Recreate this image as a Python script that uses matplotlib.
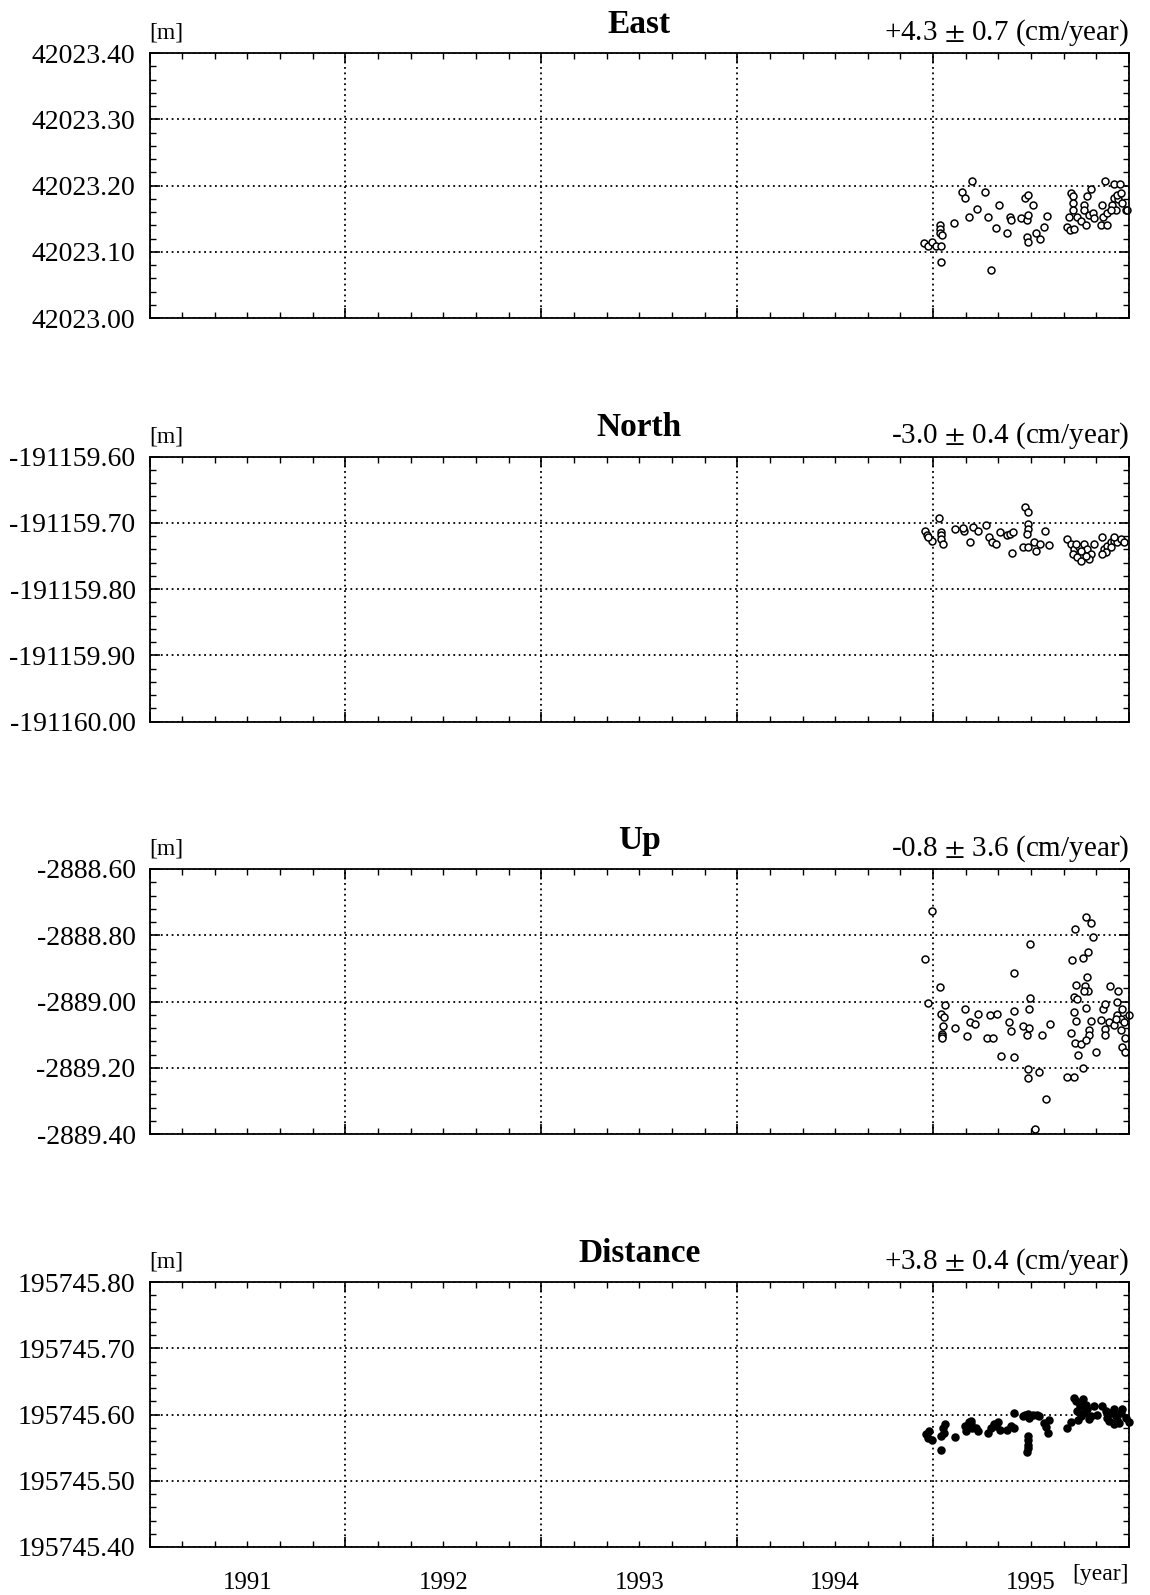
import numpy as np
import matplotlib
matplotlib.use("Agg")
import matplotlib.pyplot as plt
from matplotlib.ticker import MultipleLocator, FixedLocator, NullFormatter, FuncFormatter
from matplotlib.transforms import blended_transform_factory

# ---------------- data ----------------
panel_titles = ["East", "North", "Up", "Distance"]
rate_texts = ["+4.3 $\\pm$ 0.7 (cm/year)", "-3.0 $\\pm$ 0.4 (cm/year)",
              "-0.8 $\\pm$ 3.6 (cm/year)", "+3.8 $\\pm$ 0.4 (cm/year)"]
y_limits = [(42023.00, 42023.40), (-191160.00, -191159.60),
            (-2889.40, -2888.60), (195745.40, 195745.80)]
y_major = [0.10, 0.10, 0.20, 0.10]
y_minor = [0.02, 0.02, 0.04, 0.02]
year_labels = ["1991", "1992", "1993", "1994", "1995"]

east_t = [1994.954, 1994.975, 1994.995, 1995.017, 1995.039, 1995.034, 1995.035, 1995.036,
          1995.047, 1995.039, 1995.107, 1995.149, 1995.161, 1995.183, 1995.198, 1995.224,
          1995.263, 1995.280, 1995.319, 1995.334, 1995.297, 1995.376, 1995.393, 1995.397,
          1995.449, 1995.468, 1995.483, 1995.478, 1995.486, 1995.508, 1995.478, 1995.483,
          1995.525, 1995.547, 1995.568, 1995.581, 1995.681, 1995.698, 1995.720, 1995.703,
          1995.715, 1995.712, 1995.712, 1995.692, 1995.737, 1995.754, 1995.768, 1995.771,
          1995.780, 1995.788, 1995.805, 1995.797, 1995.814, 1995.822, 1995.856, 1995.876,
          1995.890, 1995.864, 1995.869, 1995.890, 1995.915, 1995.924, 1995.924, 1995.944,
          1995.941, 1995.954, 1995.961, 1995.966, 1995.983, 1995.992, 1995.932, 1995.907]
east_v = [42023.113, 42023.109, 42023.114, 42023.109, 42023.108, 42023.141, 42023.135, 42023.128,
          42023.125, 42023.085, 42023.143, 42023.190, 42023.181, 42023.152, 42023.207, 42023.164,
          42023.190, 42023.152, 42023.136, 42023.170, 42023.073, 42023.129, 42023.152, 42023.148,
          42023.151, 42023.181, 42023.185, 42023.148, 42023.156, 42023.171, 42023.123, 42023.115,
          42023.128, 42023.120, 42023.137, 42023.154, 42023.138, 42023.133, 42023.134, 42023.189,
          42023.184, 42023.174, 42023.163, 42023.152, 42023.153, 42023.147, 42023.171, 42023.163,
          42023.141, 42023.184, 42023.194, 42023.156, 42023.158, 42023.151, 42023.141, 42023.207,
          42023.141, 42023.171, 42023.152, 42023.158, 42023.171, 42023.202, 42023.181, 42023.179,
          42023.186, 42023.202, 42023.189, 42023.174, 42023.163, 42023.163, 42023.163, 42023.163]

north_t = [1994.958, 1994.971, 1994.992, 1994.975, 1995.030, 1995.039, 1995.042, 1995.039,
           1995.051, 1995.110, 1995.158, 1995.153, 1995.186, 1995.203, 1995.229, 1995.268,
           1995.283, 1995.300, 1995.322, 1995.339, 1995.376, 1995.395, 1995.410, 1995.403,
           1995.471, 1995.483, 1995.483, 1995.483, 1995.478, 1995.458, 1995.483, 1995.514,
           1995.525, 1995.547, 1995.571, 1995.593, 1995.686, 1995.703, 1995.720, 1995.712,
           1995.737, 1995.754, 1995.746, 1995.771, 1995.788, 1995.805, 1995.797, 1995.822,
           1995.780, 1995.729, 1995.754, 1995.864, 1995.873, 1995.890, 1995.907, 1995.924,
           1995.941, 1995.958, 1995.975, 1995.924, 1995.907, 1995.881, 1995.864]
north_v = [-191159.713, -191159.719, -191159.728, -191159.722, -191159.693, -191159.714,
           -191159.719, -191159.724, -191159.732, -191159.709, -191159.713, -191159.708,
           -191159.729, -191159.707, -191159.713, -191159.703, -191159.722, -191159.729,
           -191159.732, -191159.714, -191159.719, -191159.717, -191159.714, -191159.745,
           -191159.676, -191159.684, -191159.702, -191159.709, -191159.717, -191159.737,
           -191159.736, -191159.729, -191159.742, -191159.732, -191159.713, -191159.733,
           -191159.724, -191159.732, -191159.740, -191159.747, -191159.752, -191159.757,
           -191159.737, -191159.732, -191159.740, -191159.747, -191159.755, -191159.732,
           -191159.750, -191159.732, -191159.742, -191159.722, -191159.740, -191159.735,
           -191159.729, -191159.727, -191159.729, -191159.724, -191159.729, -191159.722,
           -191159.737, -191159.744, -191159.747]

up_t = [1994.992, 1994.958, 1994.975, 1995.037, 1995.059, 1995.042, 1995.056, 1995.051,
        1995.044, 1995.044, 1995.047, 1995.114, 1995.161, 1995.175, 1995.190, 1995.215,
        1995.229, 1995.276, 1995.308, 1995.288, 1995.327, 1995.347, 1995.386, 1995.400,
        1995.411, 1995.411, 1995.415, 1995.461, 1995.478, 1995.492, 1995.492, 1995.495,
        1995.497, 1995.483, 1995.483, 1995.539, 1995.556, 1995.576, 1995.598, 1995.686,
        1995.717, 1995.703, 1995.708, 1995.725, 1995.720, 1995.720, 1995.732, 1995.729,
        1995.737, 1995.725, 1995.754, 1995.742, 1995.763, 1995.764, 1995.783, 1995.808,
        1995.817, 1995.791, 1995.785, 1995.775, 1995.791, 1995.768, 1995.780, 1995.805,
        1995.797, 1995.797, 1995.780, 1995.830, 1995.859, 1995.869, 1995.876, 1995.876,
        1995.876, 1995.903, 1995.898, 1995.924, 1995.941, 1995.944, 1995.941, 1995.958,
        1995.966, 1995.975, 1995.958, 1995.978, 1995.966, 1995.978, 1995.998, 1995.932,
        1995.520]
up_v = [-2888.727, -2888.872, -2889.004, -2888.957, -2889.012, -2889.037, -2889.047,
        -2889.074, -2889.097, -2889.104, -2889.110, -2889.080, -2889.022, -2889.104,
        -2889.062, -2889.067, -2889.037, -2889.109, -2889.109, -2889.042, -2889.037,
        -2889.164, -2889.062, -2889.090, -2889.030, -2888.914, -2889.167, -2889.074,
        -2889.100, -2889.080, -2889.022, -2888.990, -2888.827, -2889.204, -2889.230,
        -2889.214, -2889.100, -2889.294, -2889.067, -2889.227, -2889.227, -2889.094,
        -2888.875, -2888.782, -2888.987, -2889.032, -2888.950, -2889.060, -2888.992,
        -2889.124, -2889.127, -2889.162, -2889.202, -2888.870, -2888.744, -2888.764,
        -2888.804, -2888.852, -2888.927, -2888.954, -2888.967, -2888.967, -2889.020,
        -2889.060, -2889.087, -2889.100, -2889.117, -2889.152, -2889.057, -2889.022,
        -2889.007, -2889.082, -2889.100, -2888.954, -2889.062, -2889.072, -2889.002,
        -2888.967, -2889.042, -2889.052, -2889.022, -2889.062, -2889.087, -2889.110,
        -2889.137, -2889.152, -2889.040, -2889.052, -2889.385]

dist_t = [1994.966, 1994.978, 1994.992, 1994.975, 1995.039, 1995.051, 1995.059, 1995.054,
          1995.042, 1995.114, 1995.161, 1995.169, 1995.181, 1995.191, 1995.198, 1995.195,
          1995.220, 1995.229, 1995.280, 1995.297, 1995.322, 1995.330, 1995.313, 1995.344,
          1995.378, 1995.398, 1995.412, 1995.412, 1995.458, 1995.471, 1995.483, 1995.491,
          1995.508, 1995.530, 1995.542, 1995.483, 1995.483, 1995.483, 1995.483, 1995.478,
          1995.564, 1995.576, 1995.585, 1995.593, 1995.686, 1995.703, 1995.717, 1995.729,
          1995.737, 1995.751, 1995.763, 1995.771, 1995.780, 1995.788, 1995.797, 1995.805,
          1995.822, 1995.839, 1995.864, 1995.881, 1995.890, 1995.907, 1995.924, 1995.932,
          1995.941, 1995.949, 1995.958, 1995.966, 1995.983, 1996.000, 1995.924, 1995.898,
          1995.754, 1995.740]
dist_v = [195745.570, 195745.575, 195745.562, 195745.565, 195745.547, 195745.580, 195745.585,
          195745.572, 195745.567, 195745.566, 195745.582, 195745.575, 195745.588, 195745.585,
          195745.580, 195745.590, 195745.580, 195745.575, 195745.572, 195745.580, 195745.583,
          195745.588, 195745.585, 195745.577, 195745.577, 195745.582, 195745.580, 195745.603,
          195745.597, 195745.600, 195745.601, 195745.595, 195745.599, 195745.600, 195745.597,
          195745.567, 195745.562, 195745.554, 195745.549, 195745.544, 195745.587, 195745.581,
          195745.572, 195745.592, 195745.580, 195745.588, 195745.625, 195745.620, 195745.605,
          195745.613, 195745.623, 195745.603, 195745.615, 195745.608, 195745.593, 195745.598,
          195745.613, 195745.600, 195745.613, 195745.605, 195745.595, 195745.603, 195745.608,
          195745.597, 195745.592, 195745.587, 195745.603, 195745.608, 195745.595, 195745.588,
          195745.585, 195745.590, 195745.597, 195745.591]

series_t = [east_t, north_t, up_t, dist_t]
series_v = [east_v, north_v, up_v, dist_v]

# ---------------- plotting ----------------
plt.rcParams['font.family'] = ['Liberation Serif', 'DejaVu Serif']
plt.rcParams['mathtext.fontset'] = 'stix'

W, H = 1150, 1595
fig = plt.figure(figsize=(W / 100, H / 100), dpi=100)
fig.patch.set_facecolor('white')

left = 149.5 / W
width = (1129 - 149.5) / W
tops = [53, 456.5, 869, 1282]
ph = 265

for i in range(4):
    bottom = 1 - (tops[i] + ph) / H
    ax = fig.add_axes([left, bottom, width, ph / H])
    ax.plot(series_t[i], series_v[i], linestyle='none', marker='o',
            markersize=5, markerfacecolor=('black' if i == 3 else 'white'),
            markeredgecolor='black', markeredgewidth=1.1, clip_on=False)
    ax.set_xlim(1991.0, 1996.0)
    ax.set_ylim(*y_limits[i])
    ax.xaxis.set_major_locator(FixedLocator([1991, 1992, 1993, 1994, 1995, 1996]))
    ax.xaxis.set_minor_locator(MultipleLocator(1 / 6))
    ax.yaxis.set_major_locator(MultipleLocator(y_major[i]))
    ax.yaxis.set_minor_locator(MultipleLocator(y_minor[i]))
    ax.yaxis.set_major_formatter(FuncFormatter(lambda v, p: f"{v:.2f}"))
    ax.xaxis.set_major_formatter(NullFormatter())
    ax.xaxis.set_minor_formatter(NullFormatter())
    ax.tick_params(axis='both', which='both', direction='in', top=True, right=True,
                   color='black')
    ax.tick_params(axis='both', which='major', length=7, width=1.2)
    ax.tick_params(axis='both', which='minor', length=4, width=1.0)
    ax.tick_params(axis='y', which='major', labelsize=20, pad=10)
    ax.grid(True, which='major', linestyle=(0, (1, 2)), color='black', linewidth=1.3)
    for s in ax.spines.values():
        s.set_linewidth(1.3)
        s.set_color('black')
    # title and annotations
    ax.text(0.5, 1.05, panel_titles[i], transform=ax.transAxes, ha='center',
            va='bottom', fontsize=24, fontweight='bold')
    ax.text(0.0, 1.035, "[m]", transform=ax.transAxes, ha='left', va='bottom',
            fontsize=17)
    ax.text(1.0, 1.02, rate_texts[i], transform=ax.transAxes, ha='right',
            va='bottom', fontsize=21)
    if i == 3:
        trans = blended_transform_factory(ax.transData, ax.transAxes)
        for k, lab in enumerate(year_labels):
            ax.text(1991.5 + k, -0.095, lab, transform=trans, ha='center', va='top',
                    fontsize=18)
        ax.text(1.0, -0.065, "[year]", transform=ax.transAxes, ha='right', va='top',
                fontsize=17)

fig.savefig("out.png", dpi=100, facecolor='white')
